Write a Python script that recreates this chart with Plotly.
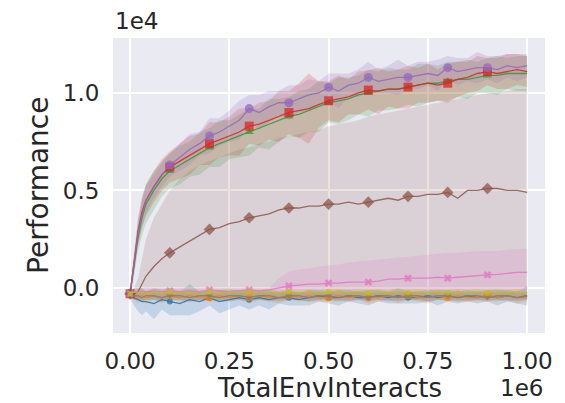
import plotly.graph_objects as go

# x in units of 1e6 TotalEnvInteracts, y in units of 1e4 Performance
X = [0, 0.01, 0.02, 0.03, 0.04, 0.06, 0.08, 0.1, 0.125, 0.15, 0.175, 0.2, 0.225, 0.25, 0.275,
     0.3, 0.325, 0.35, 0.375, 0.4, 0.425, 0.45, 0.475, 0.5, 0.525, 0.55, 0.575, 0.6, 0.625,
     0.65, 0.675, 0.7, 0.725, 0.75, 0.775, 0.8, 0.825, 0.85, 0.875, 0.9, 0.925, 0.95, 0.975, 1.0]

BLUE = [-0.03, -0.05, -0.06, -0.07, -0.07, -0.08, -0.06, -0.07, -0.08, -0.06, -0.07, -0.05, -0.07, -0.06, -0.05,
        -0.06, -0.05, -0.06, -0.05, -0.05, -0.06, -0.05, -0.04, -0.05, -0.05, -0.04, -0.05, -0.05, -0.04,
        -0.05, -0.04, -0.05, -0.05, -0.04, -0.05, -0.04, -0.05, -0.04, -0.05, -0.04, -0.05, -0.04, -0.05, -0.04]
BLUE_SD = [0.02, 0.04, 0.06, 0.07, 0.05, 0.08, 0.05, 0.07, 0.06, 0.08, 0.05, 0.04, 0.06, 0.05, 0.04,
           0.05, 0.04, 0.05, 0.03, 0.04, 0.03, 0.04, 0.03, 0.03, 0.04, 0.03, 0.03, 0.04, 0.03,
           0.03, 0.04, 0.03, 0.03, 0.03, 0.04, 0.03, 0.03, 0.03, 0.03, 0.03, 0.04, 0.03, 0.03, 0.05]

ORANGE = [-0.03, -0.04, -0.05, -0.04, -0.05, -0.04, -0.05, -0.04, -0.05, -0.04, -0.05, -0.05, -0.04, -0.05, -0.04,
          -0.05, -0.04, -0.05, -0.05, -0.04, -0.05, -0.04, -0.05, -0.05, -0.04, -0.05, -0.04, -0.05, -0.05,
          -0.04, -0.05, -0.04, -0.05, -0.05, -0.04, -0.05, -0.04, -0.05, -0.05, -0.04, -0.05, -0.04, -0.05, -0.05]
ORANGE_SD = [0.02, 0.02, 0.03, 0.02, 0.03, 0.02, 0.03, 0.02, 0.02, 0.03, 0.02, 0.02, 0.03, 0.02, 0.02,
             0.03, 0.02, 0.02, 0.03, 0.02, 0.02, 0.03, 0.02, 0.02, 0.03, 0.02, 0.02, 0.03, 0.02,
             0.02, 0.03, 0.02, 0.02, 0.03, 0.02, 0.02, 0.03, 0.02, 0.02, 0.03, 0.02, 0.02, 0.03, 0.02]

GREEN = [-0.03, 0.11, 0.26, 0.36, 0.43, 0.50, 0.56, 0.60, 0.63, 0.66, 0.69, 0.72, 0.74, 0.76, 0.78,
         0.80, 0.82, 0.84, 0.86, 0.88, 0.89, 0.91, 0.93, 0.95, 0.96, 0.97, 0.99, 1.00, 1.01,
         1.02, 1.02, 1.03, 1.04, 1.05, 1.05, 1.06, 1.07, 1.07, 1.08, 1.09, 1.09, 1.10, 1.10, 1.10]
GREEN_SD = [0.02, 0.05, 0.07, 0.09, 0.10, 0.10, 0.09, 0.09, 0.10, 0.09, 0.11, 0.10, 0.12, 0.10, 0.11,
            0.12, 0.10, 0.13, 0.11, 0.10, 0.12, 0.11, 0.13, 0.10, 0.12, 0.11, 0.10, 0.12, 0.10,
            0.11, 0.10, 0.09, 0.11, 0.10, 0.09, 0.10, 0.09, 0.10, 0.08, 0.09, 0.10, 0.08, 0.09, 0.09]

RED = [-0.03, 0.13, 0.29, 0.39, 0.45, 0.52, 0.58, 0.62, 0.65, 0.68, 0.71, 0.74, 0.76, 0.78, 0.80,
       0.83, 0.84, 0.86, 0.88, 0.90, 0.91, 0.92, 0.94, 0.96, 0.97, 0.98, 1.00, 1.015, 1.01,
       1.02, 1.02, 1.03, 1.04, 1.05, 1.04, 1.05, 1.07, 1.08, 1.10, 1.11, 1.10, 1.11, 1.12, 1.11]
RED_SD = [0.02, 0.05, 0.07, 0.08, 0.08, 0.08, 0.08, 0.08, 0.09, 0.10, 0.08, 0.11, 0.09, 0.10, 0.12,
          0.09, 0.11, 0.10, 0.13, 0.11, 0.14, 0.18, 0.12, 0.10, 0.12, 0.09, 0.11, 0.10, 0.12,
          0.09, 0.10, 0.11, 0.09, 0.10, 0.08, 0.10, 0.09, 0.08, 0.09, 0.07, 0.08, 0.09, 0.08, 0.08]

PURPLE = [-0.03, 0.12, 0.28, 0.38, 0.45, 0.52, 0.58, 0.63, 0.67, 0.71, 0.74, 0.78, 0.80, 0.83, 0.86,
          0.92, 0.90, 0.93, 0.95, 0.95, 0.97, 0.99, 1.00, 1.03, 1.01, 1.04, 1.05, 1.08, 1.06,
          1.07, 1.08, 1.08, 1.09, 1.10, 1.09, 1.13, 1.11, 1.12, 1.13, 1.13, 1.12, 1.14, 1.13, 1.14]
PURPLE_SD = [0.02, 0.04, 0.06, 0.07, 0.07, 0.06, 0.06, 0.06, 0.07, 0.08, 0.06, 0.09, 0.07, 0.08, 0.10,
             0.07, 0.09, 0.08, 0.06, 0.09, 0.07, 0.08, 0.06, 0.07, 0.09, 0.06, 0.07, 0.08, 0.06,
             0.07, 0.09, 0.06, 0.07, 0.06, 0.08, 0.06, 0.07, 0.06, 0.08, 0.06, 0.07, 0.06, 0.07, 0.06]

BROWN = [-0.03, -0.03, -0.02, 0.02, 0.06, 0.11, 0.15, 0.18, 0.21, 0.24, 0.27, 0.30, 0.31, 0.33, 0.34,
         0.36, 0.37, 0.38, 0.40, 0.41, 0.41, 0.42, 0.42, 0.43, 0.43, 0.44, 0.43, 0.44, 0.45,
         0.46, 0.45, 0.47, 0.47, 0.48, 0.48, 0.49, 0.46, 0.50, 0.50, 0.51, 0.51, 0.50, 0.50, 0.49]
BROWN_HI = [-0.01, 0.00, 0.05, 0.15, 0.25, 0.36, 0.43, 0.50, 0.56, 0.60, 0.63, 0.65, 0.67, 0.69, 0.71,
            0.72, 0.74, 0.75, 0.77, 0.78, 0.79, 0.80, 0.81, 0.83, 0.84, 0.85, 0.86, 0.88, 0.89,
            0.90, 0.91, 0.92, 0.93, 0.94, 0.95, 0.96, 0.97, 0.98, 0.99, 1.00, 1.00, 1.01, 1.02, 1.02]
BROWN_LO = [-0.05, -0.06, -0.06, -0.07, -0.06, -0.06, -0.07, -0.06, -0.06, -0.07, -0.06, -0.06, -0.06, -0.07, -0.06,
            -0.06, -0.06, -0.07, -0.06, -0.06, -0.06, -0.07, -0.06, -0.06, -0.06, -0.07, -0.06, -0.06, -0.06,
            -0.07, -0.06, -0.06, -0.06, -0.07, -0.06, -0.06, -0.06, -0.07, -0.06, -0.06, -0.06, -0.07, -0.06, -0.06]

PINK = [-0.03, -0.02, -0.02, -0.015, -0.02, -0.015, -0.02, -0.015, -0.02, -0.015, -0.02, -0.01, -0.015, -0.02, -0.015,
        -0.01, -0.015, -0.01, 0.00, 0.01, 0.015, 0.02, 0.02, 0.025, 0.025, 0.03, 0.03, 0.03, 0.035,
        0.045, 0.045, 0.05, 0.05, 0.05, 0.055, 0.05, 0.055, 0.06, 0.065, 0.067, 0.07, 0.075, 0.08, 0.08]
PINK_HI = [-0.01, 0.00, 0.00, 0.00, 0.00, 0.00, 0.00, 0.00, 0.00, 0.00, 0.00, 0.00, 0.00, 0.00, 0.00,
           0.00, 0.00, 0.00, 0.05, 0.085, 0.095, 0.10, 0.11, 0.115, 0.12, 0.13, 0.135, 0.14, 0.145,
           0.15, 0.155, 0.16, 0.165, 0.17, 0.175, 0.18, 0.18, 0.185, 0.19, 0.19, 0.19, 0.195, 0.20, 0.20]
PINK_LO = [-0.04] * len(X)

GRAY = [-0.03, -0.04, -0.04, -0.05, -0.04, -0.04, -0.05, -0.04, -0.04, -0.05, -0.04, -0.04, -0.05, -0.04, -0.04,
        -0.05, -0.04, -0.04, -0.05, -0.04, -0.04, -0.05, -0.04, -0.04, -0.05, -0.04, -0.04, -0.05, -0.04,
        -0.04, -0.05, -0.04, -0.04, -0.05, -0.04, -0.04, -0.05, -0.04, -0.04, -0.05, -0.04, -0.04, -0.05, -0.04]
GRAY_SD = [0.02] * len(X)

OLIVE = [-0.03, -0.02, -0.025, -0.02, -0.03, -0.02, -0.025, -0.02, -0.025, -0.02, -0.03, -0.02, -0.025, -0.02, -0.025,
         -0.02, -0.025, -0.02, -0.03, -0.02, -0.025, -0.02, -0.025, -0.02, -0.02, -0.025, -0.02, -0.025, -0.02,
         -0.025, -0.02, -0.025, -0.02, -0.025, -0.02, -0.025, -0.02, -0.025, -0.02, -0.025, -0.02, -0.025, -0.02, -0.025]
OLIVE_SD = [0.015] * len(X)

X_TICKS = [0, 0.25, 0.5, 0.75, 1.0]
X_TICK_TEXT = ["0.00", "0.25", "0.50", "0.75", "1.00"]
Y_TICKS = [0.0, 0.5, 1.0]
Y_TICK_TEXT = ["0.0", "0.5", "1.0"]


def rgba(hex_color, a):
    h = hex_color.lstrip('#')
    r, g, b = int(h[0:2], 16), int(h[2:4], 16), int(h[4:6], 16)
    return f"rgba({r},{g},{b},{a})"


def band(mean, sd):
    return [m - s for m, s in zip(mean, sd)], [m + s for m, s in zip(mean, sd)]


# (mean, lo, hi, color, marker symbol, marker size, band alpha)
series = [
    (BLUE, *band(BLUE, BLUE_SD), "#1f77b4", "circle", 6, 0.2),
    (ORANGE, *band(ORANGE, ORANGE_SD), "#ff7f0e", "circle", 7, 0.2),
    (GREEN, *band(GREEN, GREEN_SD), "#2ca02c", "triangle-up", 8, 0.2),
    (RED, *band(RED, RED_SD), "#d62728", "square", 9, 0.2),
    (PURPLE, *band(PURPLE, PURPLE_SD), "#9467bd", "circle", 9, 0.2),
    (BROWN, BROWN_LO, BROWN_HI, "#8c564b", "diamond", 9, 0.17),
    (PINK, PINK_LO, PINK_HI, "#e377c2", "x", 7, 0.2),
    (GRAY, *band(GRAY, GRAY_SD), "#7f7f7f", "triangle-down", 6, 0.2),
    (OLIVE, *band(OLIVE, OLIVE_SD), "#bcbd22", "square", 5, 0.25),
]

mark_idx = [i for i, x in enumerate(X) if abs(x * 10 - round(x * 10)) < 1e-9 and x < 0.95]

fig = go.Figure()
for mean, lo, hi, color, sym, msize, alpha in series:
    fig.add_trace(go.Scatter(x=X + X[::-1], y=hi + lo[::-1], fill="toself",
                             fillcolor=rgba(color, alpha), line=dict(width=0),
                             hoverinfo="skip", showlegend=False))
for mean, lo, hi, color, sym, msize, alpha in series:
    fig.add_trace(go.Scatter(x=X, y=mean, mode="lines", line=dict(color=rgba(color, 0.85), width=1.3),
                             showlegend=False))
    fig.add_trace(go.Scatter(x=[X[i] for i in mark_idx], y=[mean[i] for i in mark_idx], mode="markers",
                             marker=dict(color=rgba(color, 0.75), size=msize, symbol=sym, line=dict(width=0)),
                             showlegend=False))

tick_font = dict(family="DejaVu Sans", size=23, color="#262626")
fig.update_layout(
    width=565, height=403,
    margin=dict(l=113, r=20, t=38, b=70),
    paper_bgcolor="white", plot_bgcolor="#EAEAF2",
    font=dict(family="DejaVu Sans", color="#262626"),
    xaxis=dict(range=[-0.043, 1.045], tickvals=X_TICKS, ticktext=X_TICK_TEXT,
               showgrid=True, gridcolor="white", gridwidth=1.5, zeroline=False, showline=False,
               ticks="outside", ticklen=7, tickcolor="rgba(0,0,0,0)", tickfont=tick_font),
    yaxis=dict(range=[-0.231, 1.282], tickvals=Y_TICKS, ticktext=Y_TICK_TEXT,
               showgrid=True, gridcolor="white", gridwidth=1.5, zeroline=False, showline=False,
               ticks="outside", ticklen=8, tickcolor="rgba(0,0,0,0)", tickfont=tick_font),
    annotations=[
        dict(text="TotalEnvInteracts", xref="paper", yref="paper", x=0.5, y=-0.186,
             xanchor="center", yanchor="middle", showarrow=False,
             font=dict(family="DejaVu Sans", size=26, color="#262626")),
        dict(text="1e6", xref="paper", yref="paper", x=1.0, y=-0.186,
             xanchor="right", yanchor="middle", showarrow=False,
             font=dict(family="DejaVu Sans", size=23, color="#262626")),
        dict(text="1e4", xref="paper", yref="paper", x=0.0, y=1.058,
             xanchor="left", yanchor="middle", showarrow=False,
             font=dict(family="DejaVu Sans", size=23, color="#262626")),
        dict(text="Performance", xref="paper", yref="paper", x=-0.1725, y=0.5,
             xanchor="center", yanchor="middle", textangle=-90, showarrow=False,
             font=dict(family="DejaVu Sans", size=28, color="#262626")),
    ],
)

fig.write_html("out.html")
